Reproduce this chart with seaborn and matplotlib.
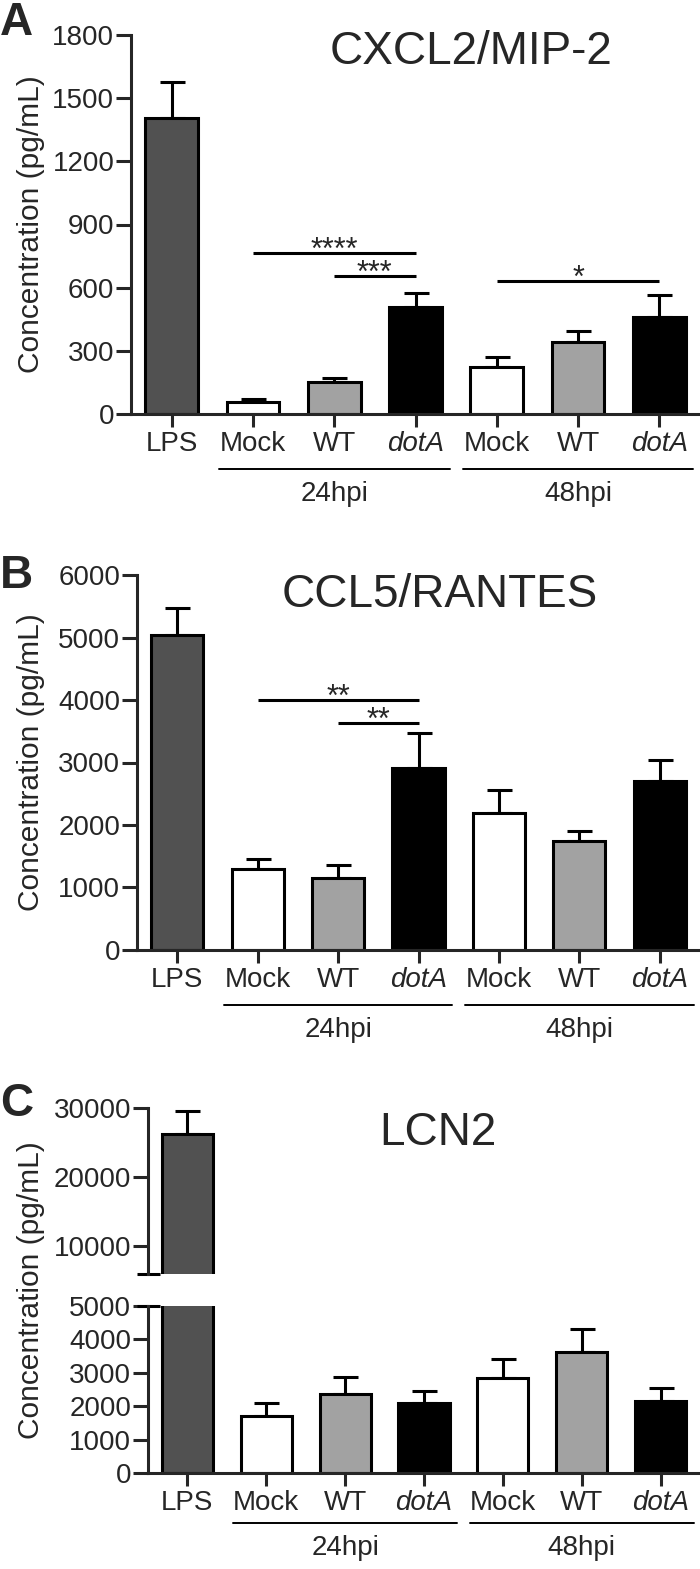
import matplotlib
matplotlib.use("Agg")
import matplotlib.pyplot as plt
import matplotlib.transforms as mtransforms
import seaborn as sns
import numpy as np

# Data (mean and top of SEM bar)
categories = ["LPS", "Mock 24", "WT 24", "dotA 24", "Mock 48", "WT 48", "dotA 48"]
tick_labels = ["LPS", "Mock", "WT", "dotA", "Mock", "WT", "dotA"]
bar_colors = ["#515151", "#ffffff", "#a2a2a2", "#000000", "#ffffff", "#a2a2a2", "#000000"]

cxcl2_mean = [1406, 57, 150, 509, 222, 340, 461]
cxcl2_upper = [1576, 72, 170, 576, 272, 395, 567]

ccl5_mean = [5040, 1291, 1147, 2907, 2187, 1744, 2704]
ccl5_upper = [5467, 1456, 1360, 3477, 2560, 1904, 3040]

lcn2_mean = [26184, 1717, 2354, 2101, 2848, 3616, 2141]
lcn2_upper = [29565, 2091, 2879, 2455, 3414, 4313, 2545]

groups = [("24hpi", 1, 3), ("48hpi", 4, 6)]

# significance: (left bar, right bar, y, stars)
cxcl2_sig = [(1, 3, 765, "****"), (2, 3, 654, "***"), (4, 6, 630, "*")]
ccl5_sig = [(1, 3, 4000, "**"), (2, 3, 3627, "**")]

sns.set_style("ticks")
plt.rcParams["font.family"] = ["Liberation Sans", "DejaVu Sans"]

W, H = 700, 1569
fig = plt.figure(figsize=(W / 100, H / 100), dpi=100)

LW = 2.2


def make_ax(left, top, bottom, xlim, right=700):
    ax = fig.add_axes([left / W, 1 - bottom / H, (right - left) / W, (bottom - top) / H])
    ax.set_xlim(*xlim)
    return ax


def draw_bars(ax, means, uppers):
    sns.barplot(x=categories, y=means, hue=categories, palette=bar_colors,
                order=categories, legend=False, width=0.65, edgecolor="black",
                linewidth=LW, errorbar=None, ax=ax, zorder=2)
    x = np.arange(len(categories))
    m = np.array(means)
    up = np.array(uppers) - m
    ax.errorbar(x, m, yerr=[np.zeros_like(up), up], fmt="none", ecolor="black",
                elinewidth=LW, capsize=9, capthick=LW, zorder=1)


def style(ax, ticklen=11):
    ax.spines[["top", "right"]].set_visible(False)
    ax.spines["left"].set_linewidth(LW)
    ax.spines["bottom"].set_linewidth(LW)
    ax.tick_params(axis="y", length=ticklen, width=LW, labelsize=20, pad=1)
    ax.tick_params(axis="x", length=9, width=LW, labelsize=20, pad=3)
    ax.set_ylabel("")
    ax.set_xlabel("")


def x_labels(ax, line_off=55, text_off=80):
    ax.set_xticks(range(len(categories)))
    ax.set_xticklabels(tick_labels)
    for lab in ax.get_xticklabels():
        if lab.get_text() == "dotA":
            lab.set_fontstyle("italic")
    for name, a, b in groups:
        tr_line = mtransforms.offset_copy(ax.get_xaxis_transform(), fig=fig, y=-line_off, units="dots")
        ax.plot([a - 0.42, b + 0.42], [0, 0], color="black", lw=1.4,
                transform=tr_line, clip_on=False)
        tr_txt = mtransforms.offset_copy(ax.get_xaxis_transform(), fig=fig, y=-text_off, units="dots")
        ax.text((a + b) / 2, 0, name, transform=tr_txt, ha="center", va="center", fontsize=20)


def sig_marks(ax, sigs):
    for a, b, y, s in sigs:
        ax.plot([a, b], [y, y], color="black", lw=LW, solid_capstyle="butt")
        ax.annotate(s, xy=((a + b) / 2, y), xytext=(0, -4), textcoords="offset points",
                    ha="center", va="baseline", fontsize=22)


def ylabel(yc):
    fig.text(31 / W, 1 - yc / H, "Concentration (pg/mL)", rotation=90,
             ha="center", va="center", fontsize=21.5)


# Panel A
axA = make_ax(131, 35, 414, (-0.66, 6.71))
draw_bars(axA, cxcl2_mean, cxcl2_upper)
axA.set_ylim(0, 1800)
axA.set_yticks(range(0, 1801, 300))
style(axA)
x_labels(axA)
sig_marks(axA, cxcl2_sig)
ylabel(224.5)
fig.text(471 / W, 1 - 52 / H, "CXCL2/MIP-2", ha="center", va="center", fontsize=33)
fig.text(0, 1 - 35 / H, "A", ha="left", va="baseline", fontsize=33, fontweight="bold")

# Panel B
axB = make_ax(137, 575, 950, (-0.66, 6.72))
draw_bars(axB, ccl5_mean, ccl5_upper)
axB.set_ylim(0, 6000)
axB.set_yticks(range(0, 6001, 1000))
style(axB)
x_labels(axB)
sig_marks(axB, ccl5_sig)
ylabel(762.5)
fig.text(440 / W, 1 - 595 / H, "CCL5/RANTES", ha="center", va="center", fontsize=33)
fig.text(0, 1 - 588 / H, "B", ha="left", va="baseline", fontsize=33, fontweight="bold")

# Panel C (broken axis)
axCt = make_ax(148, 1108, 1274, (-0.68, 6.68))
draw_bars(axCt, lcn2_mean, lcn2_upper)
axCt.set_ylim(6000, 30000)
axCt.set_yticks([10000, 20000, 30000])
style(axCt)
axCt.spines["bottom"].set_visible(False)
axCt.tick_params(axis="x", bottom=False, labelbottom=False)

axCb = make_ax(148, 1306, 1473, (-0.68, 6.68))
draw_bars(axCb, lcn2_mean, lcn2_upper)
axCb.set_ylim(0, 5000)
axCb.set_yticks(range(0, 5001, 1000))
style(axCb)
x_labels(axCb, line_off=50, text_off=75)

axw = 700 - 148
for ax, yv in [(axCt, 6000), (axCb, 5000)]:
    ax.plot([-11 / axw, 12 / axw], [yv, yv], color="black", lw=LW,
            transform=ax.get_yaxis_transform(), clip_on=False, solid_capstyle="butt")

ylabel(1290)
fig.text(438 / W, 1 - 1133 / H, "LCN2", ha="center", va="center", fontsize=33)
fig.text(0, 1 - 1116 / H, "C", ha="left", va="baseline", fontsize=33, fontweight="bold")

fig.savefig("out.png", dpi=100)
